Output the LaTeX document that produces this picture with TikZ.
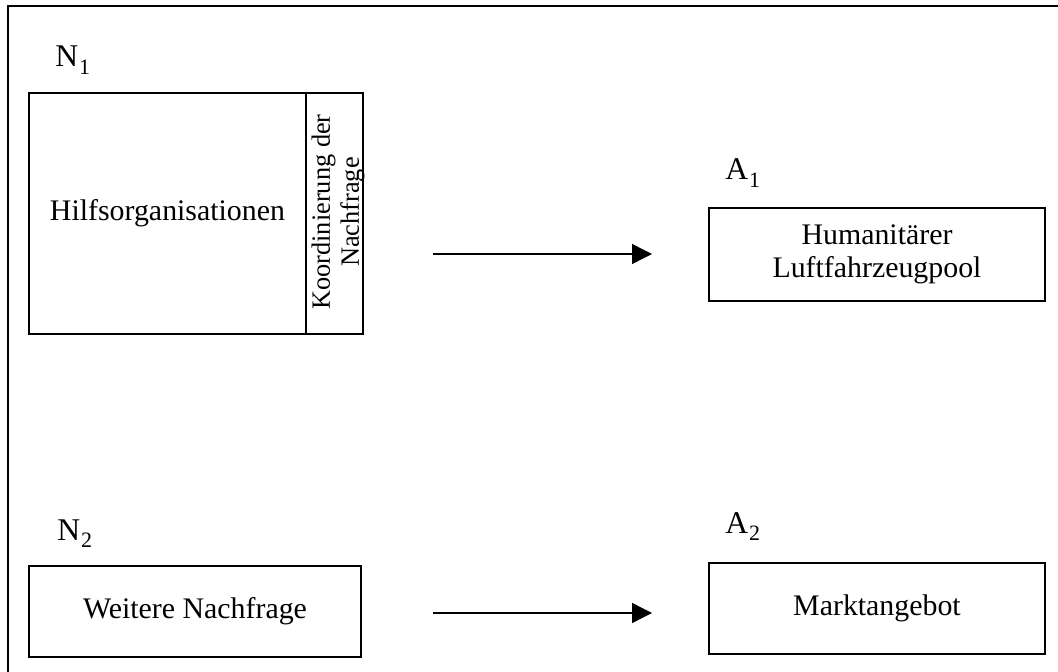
\documentclass[tikz,border=0pt]{standalone}
\usepackage{fontspec}
\setmainfont{Liberation Serif}
\usetikzlibrary{arrows.meta}
\newcommand{\sbs}[1]{\kern0.5pt\raisebox{-4.5pt}{\fontsize{12.5}{12.5}\selectfont #1}}

\begin{document}
\begin{tikzpicture}[x=0.02cm, y=-0.02cm, >={Triangle[length=4mm, width=4mm]},
  box/.style={draw, line width=1.1pt, inner sep=0pt, outer sep=0pt, align=center, font=\fontsize{17}{19}\selectfont},
  lbl/.style={anchor=base west, inner sep=0pt, font=\fontsize{18}{20}\selectfont},
  arr/.style={->, line width=0.8pt}]
  \clip (0,0) rectangle (1058,672);
  \draw[line width=1.1pt] (1070,6) -| (8,690);
  % demand side
  \node[lbl] (n1) at (55,67) {N\sbs{1}};
  \node[box, minimum width=5.54cm, minimum height=4.82cm] (hilf) at (167.5,213.5) {Hilfsorganisationen};
  \node[box, minimum width=1.14cm, minimum height=4.82cm] (koord) at (334.5,213.5) {};
  \node[rotate=90, inner sep=0pt, align=center, font=\fontsize{15}{16.5}\selectfont] (koordtxt) at (338,212) {Koordinierung der\\Nachfrage};
  \node[lbl] (n2) at (57,540) {N\sbs{2}};
  \node[box, minimum width=6.64cm, minimum height=1.82cm] (weitere) at (195,611.5) {Weitere Nachfrage};
  % supply side
  \node[lbl] (a1) at (725,180) {A\sbs{1}};
  \node[box, minimum width=6.72cm, minimum height=1.86cm] (pool) at (877,254.5) {Humanitärer\\Luftfahrzeugpool};
  \node[lbl] (a2) at (725,533) {A\sbs{2}};
  \node[box, minimum width=6.72cm, minimum height=1.82cm] (markt) at (877,608.5) {Marktangebot};
  % arrows
  \coordinate (s1) at (433,254); \coordinate (e1) at (652,254);
  \coordinate (s2) at (433,613); \coordinate (e2) at (652,613);
  \draw[arr] (s1) -- (e1); \draw[arr] (s2) -- (e2);
\end{tikzpicture}
\end{document}
